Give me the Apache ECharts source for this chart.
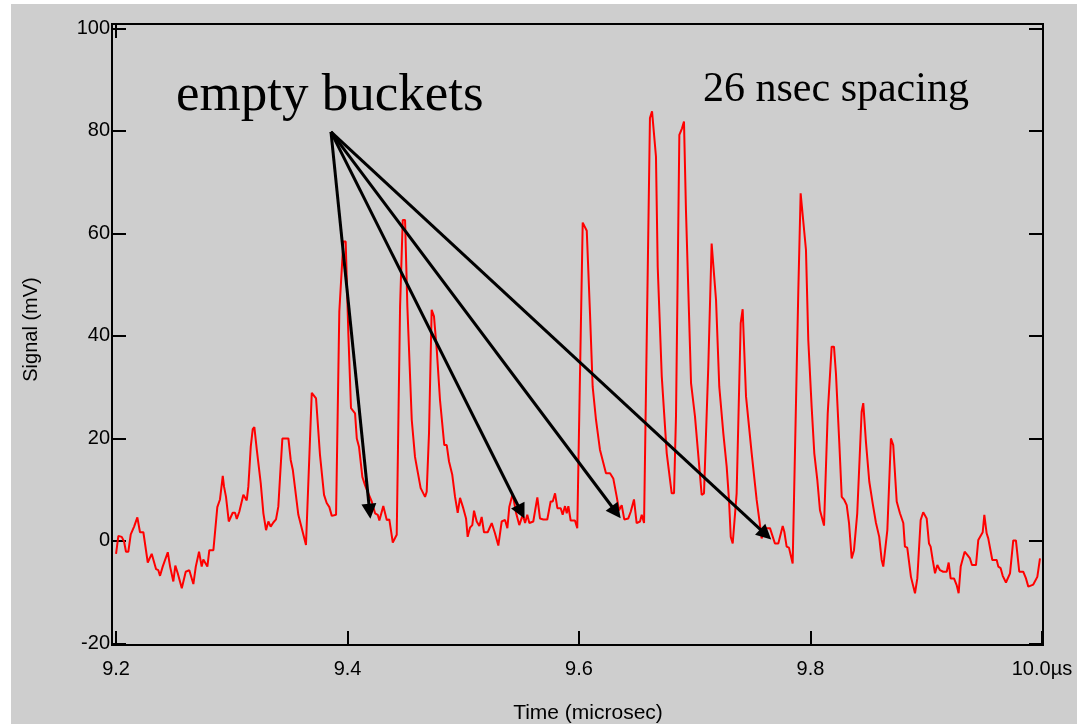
<!DOCTYPE html>
<html>
<head>
<meta charset="utf-8">
<script src="https://cdn.jsdelivr.net/npm/echarts@6/dist/echarts.min.js"></script>
<style>
  html, body { margin: 0; padding: 0; background: #ffffff; width: 1077px; height: 724px; overflow: hidden; }
  #bg { position: absolute; left: 11px; top: 4px; right: 0; bottom: 0; background: #cecece; }
  #chart { position: absolute; left: 0; top: 0; width: 1077px; height: 724px; }
</style>
</head>
<body>
<div id="bg"></div>
<div id="chart"></div>
<script>
// ---- data (time in microseconds, signal in mV) ----
const timeUs = [
  9.2000, 9.2020, 9.2049, 9.2069, 9.2086, 9.2106, 9.2127, 9.2141, 9.2156, 9.2184,
  9.2207, 9.2236, 9.2274, 9.2308, 9.2346, 9.2365, 9.2380, 9.2403, 9.2447, 9.2467,
  9.2478, 9.2495, 9.2512, 9.2533, 9.2568, 9.2581, 9.2602, 9.2633, 9.2668, 9.2689,
  9.2717, 9.2740, 9.2754, 9.2789, 9.2806, 9.2841, 9.2875, 9.2898, 9.2922, 9.2933,
  9.2950, 9.2974, 9.3008, 9.3028, 9.3043, 9.3065, 9.3080, 9.3100, 9.3129, 9.3143,
  9.3164, 9.3181, 9.3195, 9.3216, 9.3250, 9.3273, 9.3296, 9.3316, 9.3336, 9.3359,
  9.3382, 9.3402, 9.3417, 9.3437, 9.3489, 9.3509, 9.3527, 9.3575, 9.3641, 9.3691,
  9.3728, 9.3762, 9.3797, 9.3820, 9.3843, 9.3864, 9.3877, 9.3901, 9.3929, 9.3964,
  9.3984, 9.4007, 9.4030, 9.4065, 9.4080, 9.4099, 9.4128, 9.4151, 9.4166, 9.4209,
  9.4238, 9.4261, 9.4275, 9.4309, 9.4339, 9.4361, 9.4391, 9.4425, 9.4454, 9.4477,
  9.4497, 9.4517, 9.4555, 9.4583, 9.4598, 9.4612, 9.4632, 9.4670, 9.4684, 9.4704,
  9.4727, 9.4747, 9.4771, 9.4799, 9.4836, 9.4857, 9.4877, 9.4905, 9.4929, 9.4952,
  9.4972, 9.5000, 9.5024, 9.5038, 9.5058, 9.5078, 9.5093, 9.5116, 9.5139, 9.5159,
  9.5179, 9.5211, 9.5246, 9.5274, 9.5303, 9.5317, 9.5332, 9.5361, 9.5381, 9.5398,
  9.5427, 9.5456, 9.5484, 9.5514, 9.5534, 9.5553, 9.5571, 9.5605, 9.5640, 9.5663,
  9.5692, 9.5726, 9.5755, 9.5773, 9.5793, 9.5813, 9.5842, 9.5859, 9.5879, 9.5894,
  9.5908, 9.5928, 9.5965, 9.5985, 9.6032, 9.6067, 9.6095, 9.6118, 9.6147, 9.6181,
  9.6233, 9.6268, 9.6296, 9.6326, 9.6346, 9.6369, 9.6391, 9.6426, 9.6447, 9.6475,
  9.6498, 9.6527, 9.6542, 9.6562, 9.6613, 9.6631, 9.6665, 9.6680, 9.6715, 9.6758,
  9.6801, 9.6821, 9.6838, 9.6867, 9.6890, 9.6907, 9.6924, 9.6968, 9.7002, 9.7039,
  9.7060, 9.7080, 9.7117, 9.7146, 9.7160, 9.7184, 9.7212, 9.7247, 9.7276, 9.7296,
  9.7311, 9.7328, 9.7362, 9.7397, 9.7414, 9.7443, 9.7492, 9.7535, 9.7558, 9.7578,
  9.7607, 9.7650, 9.7693, 9.7722, 9.7760, 9.7774, 9.7794, 9.7814, 9.7846, 9.7860,
  9.7895, 9.7915, 9.7929, 9.7961, 9.7981, 9.8010, 9.8033, 9.8059, 9.8082, 9.8117,
  9.8149, 9.8183, 9.8203, 9.8220, 9.8249, 9.8270, 9.8292, 9.8313, 9.8333, 9.8356,
  9.8376, 9.8404, 9.8442, 9.8456, 9.8480, 9.8508, 9.8537, 9.8566, 9.8594, 9.8615,
  9.8629, 9.8664, 9.8695, 9.8715, 9.8745, 9.8773, 9.8802, 9.8816, 9.8836, 9.8868,
  9.8903, 9.8923, 9.8952, 9.8974, 9.9004, 9.9024, 9.9038, 9.9056, 9.9076, 9.9096,
  9.9119, 9.9147, 9.9177, 9.9194, 9.9211, 9.9240, 9.9263, 9.9280, 9.9298, 9.9315,
  9.9332, 9.9355, 9.9378, 9.9395, 9.9430, 9.9450, 9.9488, 9.9502, 9.9522, 9.9536,
  9.9551, 9.9571, 9.9609, 9.9623, 9.9643, 9.9661, 9.9672, 9.9689, 9.9724, 9.9752,
  9.9775, 9.9804, 9.9838, 9.9862, 9.9882, 9.9925, 9.9960, 9.9983
];
const signalMv = [
  -2.5, 1.0, 0.8, -0.1, -2.1, -2.1, 1.3, 1.4, 2.8, 4.6,
  1.7, 1.7, -4.2, -2.5, -5.5, -5.7, -6.8, -5.0, -2.2, -5.0,
  -4.7, -7.9, -4.8, -6.3, -9.2, -8.9, -6.0, -5.7, -8.4, -5.0,
  -2.1, -5.0, -3.6, -5.0, -1.8, -1.8, 6.6, 8.1, 12.7, 10.6,
  8.6, 3.8, 5.5, 5.5, 4.3, 5.7, 6.0, 9.0, 7.9, 10.6,
  18.4, 21.8, 22.2, 17.8, 11.3, 5.4, 2.1, 3.8, 2.8, 3.6,
  4.2, 6.7, 12.5, 20.0, 20.0, 15.8, 13.9, 5.1, -0.8, 28.9,
  27.8, 16.8, 9.0, 7.4, 6.6, 4.9, 5.1, 5.1, 44.7, 58.4,
  58.4, 40.5, 25.9, 24.9, 20.0, 18.4, 12.5, 10.9, 10.0, 7.7,
  5.4, 5.1, 4.0, 6.8, 4.1, 4.2, -0.3, 1.2, 45.7, 62.6,
  62.6, 45.7, 23.6, 16.4, 14.5, 14.2, 10.3, 8.6, 9.6, 21.0,
  45.1, 43.8, 37.3, 27.5, 18.7, 18.7, 15.5, 12.9, 8.6, 5.5,
  8.4, 6.4, 4.4, 0.8, 2.6, 3.1, 5.9, 3.8, 2.9, 4.7,
  1.7, 1.7, 3.5, 1.5, -0.9, -0.9, 3.8, 4.1, 2.5, 6.7,
  9.2, 5.5, 3.1, 5.1, 3.5, 5.1, 3.5, 3.8, 8.5, 4.4,
  4.2, 4.2, 7.7, 7.7, 9.3, 6.4, 6.4, 5.1, 6.8, 5.4,
  6.8, 4.0, 4.0, 2.5, 62.1, 60.5, 44.4, 30.1, 23.6, 17.8,
  13.2, 13.2, 12.2, 8.6, 6.0, 7.0, 4.2, 4.4, 5.7, 8.1,
  3.5, 3.8, 5.1, 3.5, 82.5, 83.8, 75.0, 53.5, 32.1, 17.1,
  9.3, 9.3, 24.3, 79.2, 80.5, 81.8, 64.6, 30.8, 24.3, 14.5,
  9.0, 9.3, 34.0, 58.0, 58.0, 47.0, 30.1, 21.0, 14.5, 8.0,
  0.8, -0.5, 9.3, 42.5, 45.2, 28.2, 17.1, 8.0, 4.1, 0.5,
  2.5, 2.5, -0.5, -0.5, 2.9, 1.8, -1.1, -1.3, -4.4, -4.4,
  49.0, 67.8, 68.0, 56.8, 39.2, 26.2, 17.1, 11.9, 6.0, 3.0,
  24.9, 37.9, 37.9, 32.7, 19.1, 8.6, 8.0, 7.0, 3.5, -3.4,
  -1.8, 5.4, 25.2, 26.9, 19.1, 11.6, 7.4, 3.5, 0.8, -3.7,
  -5.0, 2.1, 20.0, 18.7, 7.7, 5.4, 3.5, -1.1, -1.3, -7.0,
  -10.2, -7.3, 4.1, 5.6, 4.4, -0.5, -1.1, -3.7, -6.3, -4.7,
  -5.7, -6.0, -6.0, -4.2, -7.3, -7.3, -8.6, -10.2, -5.0, -5.0,
  -2.1, -2.7, -3.4, -4.7, -4.7, 0.2, 1.7, 5.1, 1.5, 0.5,
  0.8, -3.7, -3.7, -5.0, -5.3, -6.8, -6.5, -8.1, -6.3, 0.1,
  0.1, -6.0, -6.0, -7.3, -8.9, -8.5, -7.0, -3.4
];

// axis ticks
const xTickValues = [9.2, 9.4, 9.6, 9.8, 10.0];
const xTickLabels = ['9.2', '9.4', '9.6', '9.8', '10.0\u00b5s'];
const yTickValues = [-20, 0, 20, 40, 60, 80, 100];
const yTickLabels = ['-20', '0', '20', '40', '60', '80', '100'];

// annotation arrows: common origin and arrow-head points (time, mV)
const arrowFrom = [9.3857, 79.8];
const arrowTo = [
  [9.4191, 5.8],
  [9.5500, 5.7],
  [9.6321, 5.6],
  [9.7613, 1.3]
];

const annotationMain = 'empty buckets';
const annotationSpacing = '26 nsec spacing';
const xTitle = 'Time (microsec)';
const yTitle = 'Signal (mV)';

// ---- chart ----
const chart = echarts.init(document.getElementById('chart'), null, { renderer: 'canvas' });
const seriesData = timeUs.map((t, i) => [t, signalMv[i]]);
const sansFont = '"Liberation Sans", Arial, sans-serif';
const serifFont = '"Liberation Serif", "Times New Roman", serif';

function nearestLabel(values, labels, v) {
  let best = 0;
  for (let i = 1; i < values.length; i++) {
    if (Math.abs(values[i] - v) < Math.abs(values[best] - v)) best = i;
  }
  return labels[best];
}
const xLabel = v => nearestLabel(xTickValues, xTickLabels, v);
const yLabel = v => nearestLabel(yTickValues, yTickLabels, v);

const tickStyle = { color: '#000', width: 2 };

const option = {
  animation: false,
  backgroundColor: 'transparent',
  grid: {
    left: 112, top: 24, right: 34, bottom: 79,
    containLabel: false,
    outerBoundsMode: 'none',
    show: true, borderColor: '#000', borderWidth: 2, backgroundColor: 'transparent'
  },
  xAxis: [
    {
      type: 'value', position: 'bottom',
      min: 9.1965, max: 10.0009,
      axisLine: { show: false, onZero: false },
      splitLine: { show: false },
      axisTick: { show: true, inside: true, length: 14, lineStyle: tickStyle, customValues: xTickValues },
      axisLabel: {
        show: true, customValues: xTickValues, formatter: xLabel,
        color: '#000', fontSize: 20, fontFamily: sansFont, margin: 14
      },
      name: xTitle, nameLocation: 'middle', nameGap: 58,
      nameTextStyle: { color: '#000', fontSize: 21, fontFamily: sansFont, padding: [0, 0, 0, 21] }
    },
    {
      type: 'value', position: 'top',
      min: 9.1965, max: 10.0009,
      axisLine: { show: false, onZero: false },
      splitLine: { show: false },
      axisTick: { show: true, inside: true, length: 14, lineStyle: tickStyle, customValues: [xTickValues[0]] },
      axisLabel: { show: false }
    }
  ],
  yAxis: [
    {
      type: 'value', position: 'left',
      min: -20.29, max: 100.84,
      axisLine: { show: false, onZero: false },
      splitLine: { show: false },
      axisTick: { show: true, inside: true, length: 14, lineStyle: tickStyle, customValues: yTickValues },
      axisLabel: {
        show: true, customValues: yTickValues, formatter: yLabel,
        color: '#000', fontSize: 20, fontFamily: sansFont, margin: 2
      },
      name: yTitle, nameLocation: 'middle', nameGap: 71, nameRotate: 90,
      nameTextStyle: { color: '#000', fontSize: 20, fontFamily: sansFont, padding: [0, 0, 0, 10] }
    },
    {
      type: 'value', position: 'right',
      min: -20.29, max: 100.84,
      axisLine: { show: false, onZero: false },
      splitLine: { show: false },
      axisTick: { show: true, inside: true, length: 14, lineStyle: tickStyle, customValues: yTickValues },
      axisLabel: { show: false }
    }
  ],
  series: [
    {
      type: 'line',
      xAxisIndex: 0, yAxisIndex: 0,
      data: seriesData,
      showSymbol: false,
      symbol: 'none',
      lineStyle: { color: '#ff0000', width: 2 },
      silent: true,
      markLine: {
        silent: true,
        animation: false,
        symbol: ['none', 'triangle'],
        symbolSize: [15, 15],
        label: { show: false },
        lineStyle: { color: '#000', width: 3, type: 'solid' },
        emphasis: { disabled: true },
        data: arrowTo.map(p => [
          { coord: arrowFrom.slice(), symbol: 'none' },
          { coord: p.slice(), symbol: 'triangle' }
        ])
      }
    }
  ],
  graphic: [
    {
      type: 'text', left: 176, top: 70, silent: true,
      style: { text: annotationMain, font: '53px ' + serifFont, fill: '#000' }
    },
    {
      type: 'text', left: 703, top: 69, silent: true,
      style: { text: annotationSpacing, font: '42px ' + serifFont, fill: '#000' }
    }
  ]
};

chart.setOption(option);
</script>
</body>
</html>
